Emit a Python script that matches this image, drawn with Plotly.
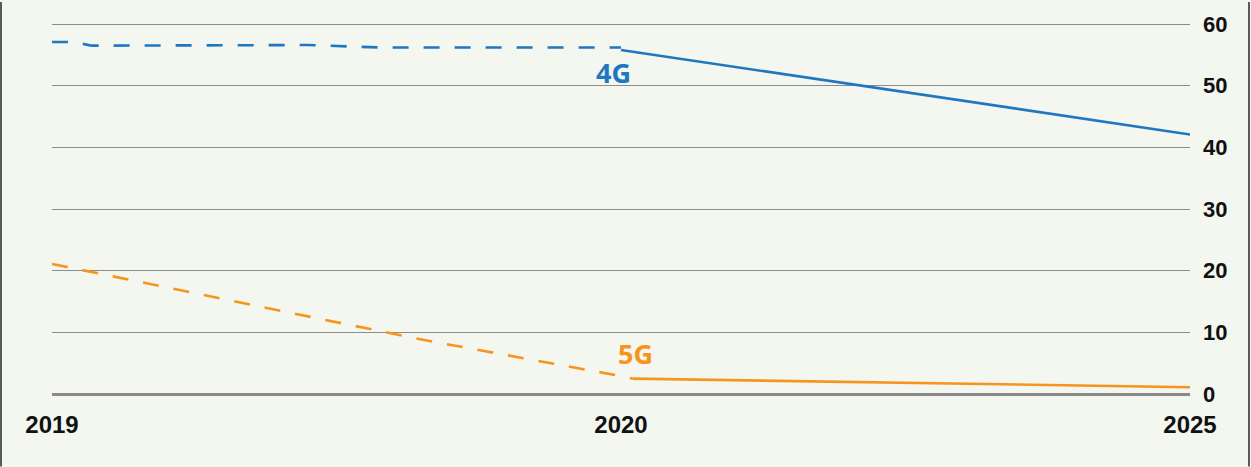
import plotly.graph_objects as go

# ---- data (x: 0 = 2019, 1 = 2020, 2 = 2025 on an evenly spaced axis) ----
tick_vals = [0, 1, 2]
tick_text = ["2019", "2020", "2025"]

g4_hist_x = [0.0, 0.037, 0.07, 0.30, 0.45, 0.58, 1.0]
g4_hist_y = [57.1, 57.1, 56.5, 56.6, 56.6, 56.2, 56.2]
g4_fc_x = [1.0, 2.0]
g4_fc_y = [55.8, 42.1]

g5_hist_x = [0.0, 0.64, 1.0, 1.02]
g5_hist_y = [21.1, 9.0, 2.9, 2.5]
g5_fc_x = [1.02, 2.0]
g5_fc_y = [2.5, 1.1]

label_4g = ("4G", 0.987, 52.1)
label_5g = ("5G", 1.025, 6.5)

y_ticks = [0, 10, 20, 30, 40, 50, 60]

BLUE = "#1f77c2"
ORANGE = "#f7941d"
BG = "#f3f7f0"

W, H = 1251, 467
ML, MR, MT, MB = 52, 61, 19, 73

fig = go.Figure()
fig.add_trace(go.Scatter(x=g4_hist_x, y=g4_hist_y, mode="lines",
                         line=dict(color=BLUE, width=2.6, dash="16px,15px"),
                         hoverinfo="skip"))
fig.add_trace(go.Scatter(x=g4_fc_x, y=g4_fc_y, mode="lines",
                         line=dict(color=BLUE, width=2.6), hoverinfo="skip"))
fig.add_trace(go.Scatter(x=g5_hist_x, y=g5_hist_y, mode="lines",
                         line=dict(color=ORANGE, width=2.6, dash="16px,15px"),
                         hoverinfo="skip"))
fig.add_trace(go.Scatter(x=g5_fc_x, y=g5_fc_y, mode="lines",
                         line=dict(color=ORANGE, width=2.6), hoverinfo="skip"))

for (txt, lx, ly), col in [(label_4g, BLUE), (label_5g, ORANGE)]:
    fig.add_annotation(x=lx, y=ly, text=txt, showarrow=False,
                       xanchor="center", yanchor="middle",
                       font=dict(family="Open Sans, Noto Sans, sans-serif",
                                 size=27, color=col, weight="bold"))

pw = W - ML - MR
ph = H - MT - MB
# figure border lines (left and right edges)
fig.add_shape(type="line", xref="paper", yref="paper",
              x0=-(ML - 1) / pw, x1=-(ML - 1) / pw, y0=-MB / ph, y1=1 + MT / ph,
              line=dict(color="#5a5a5a", width=2))
fig.add_shape(type="line", xref="paper", yref="paper",
              x0=1 + (MR - 2) / pw, x1=1 + (MR - 2) / pw, y0=-MB / ph, y1=1 + MT / ph,
              line=dict(color="#5a5a5a", width=2))

fig.update_layout(
    width=W, height=H,
    margin=dict(l=ML, r=MR, t=MT, b=MB, pad=0),
    paper_bgcolor=BG, plot_bgcolor=BG,
    showlegend=False,
    xaxis=dict(range=[0, 2], tickvals=tick_vals, ticktext=tick_text,
               showgrid=False, zeroline=False, showline=False, ticks="",
               ticklabelstandoff=14,
               tickfont=dict(family="Liberation Sans, Arial, sans-serif",
                             size=24, color="#111111", weight="bold"),
               fixedrange=True),
    yaxis=dict(range=[0, 60.5], tickvals=y_ticks, side="right",
               showgrid=True, gridcolor="#8c8c8c", gridwidth=1,
               zeroline=True, zerolinecolor="#8a8a8a", zerolinewidth=3,
               showline=False, ticks="", ticklabelstandoff=12,
               tickfont=dict(family="Liberation Sans, Arial, sans-serif",
                             size=22, color="#111111", weight="bold"),
               fixedrange=True),
)

fig.write_html("out.html")
